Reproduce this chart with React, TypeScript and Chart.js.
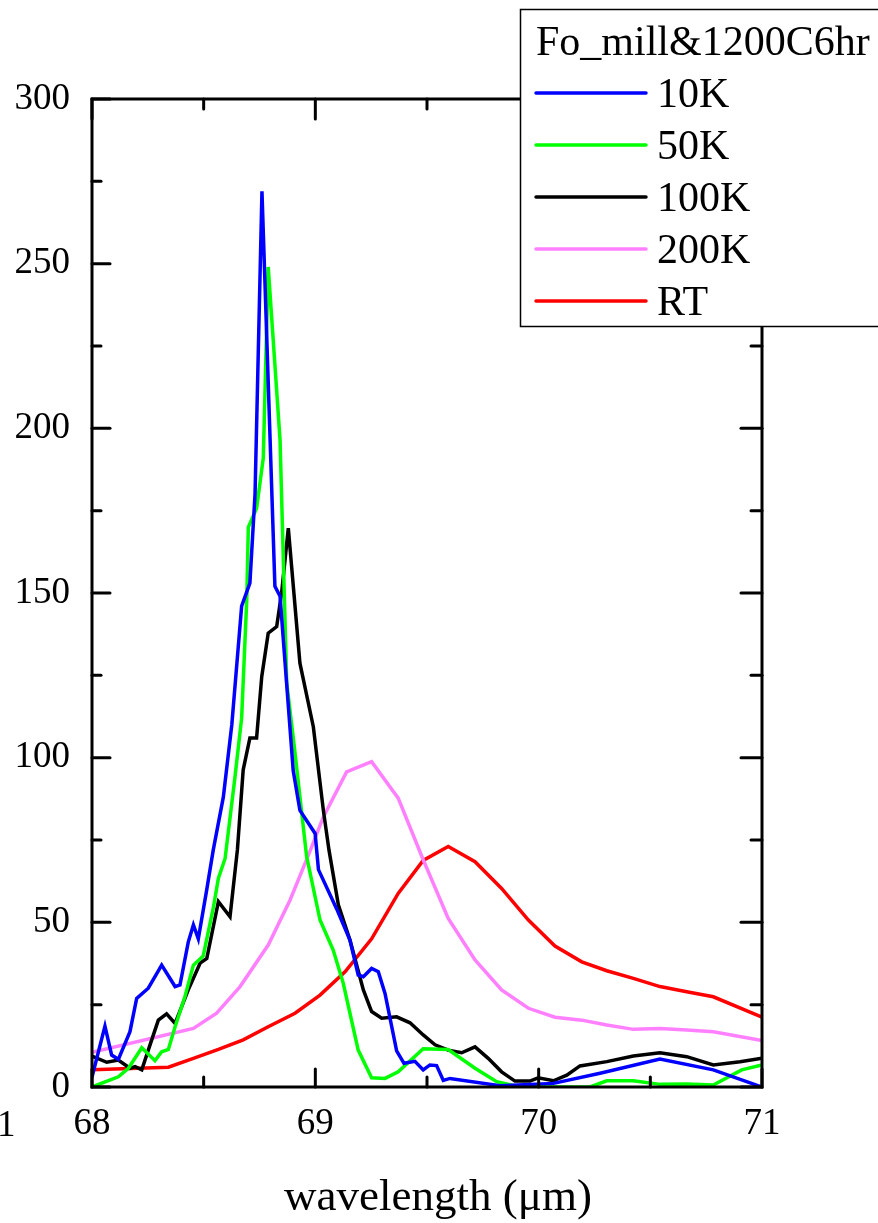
import React, { useEffect, useRef } from "react";
import { Chart, registerables } from "chart.js";

Chart.register(...registerables);

// ---- Data ----
const SERIES_LABELS = ["10K", "50K", "100K", "200K", "RT"];
const SERIES_COLORS = ["#0000FF", "#00FF00", "#000000", "#FF80FF", "#FF0000"];
const LEGEND_TITLE = "Fo_mill&1200C6hr";
const X_TITLE = "wavelength (\u03BCm)";

const WL_10K = [68.0, 68.058, 68.088, 68.118, 68.17, 68.2, 68.252, 68.312, 68.372, 68.394, 68.431, 68.454, 68.476, 68.514, 68.543, 68.588, 68.626, 68.67, 68.707, 68.73, 68.761, 68.819, 68.842, 68.901, 68.931, 68.999, 69.014, 69.096, 69.155, 69.192, 69.215, 69.252, 69.282, 69.312, 69.364, 69.397, 69.446, 69.483, 69.513, 69.543, 69.573, 69.603, 69.827, 70.066, 70.275, 70.543, 70.782, 71.0];
const I_10K = [3, 18.5, 9.7, 8.4, 16.8, 26.9, 30, 37, 30.5, 31, 44, 49.2, 45, 60, 72, 88, 110, 146, 153, 180, 272, 152, 149, 96, 84, 77, 66, 54, 44.6, 34, 33.5, 36, 35, 28.4, 11, 7.2, 7.8, 5.2, 6.7, 6.5, 2, 2.6, 0.4, 1.1, 4.2, 8.5, 5.2, 0];

const WL_50K = [68.0, 68.118, 68.163, 68.223, 68.282, 68.312, 68.342, 68.372, 68.416, 68.454, 68.498, 68.543, 68.566, 68.596, 68.64, 68.67, 68.693, 68.7, 68.737, 68.767, 68.789, 68.842, 68.872, 68.908, 68.961, 69.021, 69.08, 69.125, 69.192, 69.252, 69.312, 69.371, 69.483, 69.595, 69.715, 69.812, 69.916, 70.23, 70.305, 70.424, 70.543, 70.663, 70.782, 70.909, 71.0];
const I_50K = [0, 3.1, 5.7, 11.9, 8, 10.7, 11.4, 18.3, 27.4, 37, 39.8, 54.3, 63.4, 69.4, 94, 112, 148, 170, 175.7, 191, 249, 196.5, 122.6, 102, 70, 50.7, 41.6, 31.5, 11.2, 2.8, 2.6, 4.6, 11.6, 11.4, 5.7, 1.6, 0, 0, 1.9, 1.9, 0.8, 0.9, 0.6, 5.2, 6.7];

const WL_100K = [68.0, 68.066, 68.118, 68.17, 68.193, 68.223, 68.252, 68.297, 68.334, 68.372, 68.431, 68.484, 68.514, 68.566, 68.618, 68.651, 68.677, 68.707, 68.737, 68.76, 68.789, 68.827, 68.849, 68.879, 68.904, 68.931, 68.991, 69.036, 69.061, 69.103, 69.155, 69.215, 69.252, 69.297, 69.364, 69.424, 69.483, 69.536, 69.595, 69.655, 69.715, 69.774, 69.834, 69.894, 69.961, 69.998, 70.066, 70.126, 70.185, 70.305, 70.424, 70.543, 70.663, 70.782, 70.902, 71.0];
const I_100K = [9.4, 7.5, 8.2, 5.7, 6.2, 5.2, 11.2, 20.3, 22.2, 19.3, 29.5, 37.6, 39, 56.3, 51.7, 72, 96.3, 106, 106, 124.6, 137.8, 139.8, 150, 169.7, 150, 128.7, 109.4, 84, 72, 55.3, 44.6, 29.5, 22.9, 20.9, 21.3, 19.5, 15.8, 12.8, 11.2, 10.4, 12.2, 8.7, 4.6, 1.8, 1.8, 2.8, 1.9, 3.6, 6.4, 7.7, 9.4, 10.4, 9.2, 6.7, 7.7, 8.7];

const WL_200K = [68.0, 68.454, 68.558, 68.663, 68.789, 68.887, 68.969, 69.036, 69.14, 69.252, 69.371, 69.483, 69.595, 69.715, 69.834, 69.954, 70.073, 70.193, 70.305, 70.424, 70.543, 70.663, 70.782, 71.0];
const I_200K = [10.5, 17.8, 22.4, 30.5, 43.1, 56.8, 70.4, 82, 95.7, 98.8, 87.7, 69, 51.2, 38.6, 29.5, 23.9, 21.2, 20.3, 18.8, 17.5, 17.8, 17.3, 16.8, 14.1];

const WL_RT = [68.0, 68.342, 68.454, 68.566, 68.677, 68.789, 68.909, 69.021, 69.133, 69.252, 69.371, 69.483, 69.595, 69.715, 69.834, 69.954, 70.073, 70.193, 70.305, 70.424, 70.543, 70.663, 70.782, 71.0];
const I_RT = [5.2, 6, 8.7, 11.4, 14.3, 18.3, 22.4, 27.9, 35, 45, 58.8, 68.8, 73, 68.4, 60.3, 50.7, 42.8, 38, 35.3, 33, 30.5, 28.9, 27.4, 21.2];

const X_MAJOR = [68, 69, 70, 71];
const X_MINOR = [68.5, 69.5, 70.5];
const Y_MAJOR = [0, 50, 100, 150, 200, 250, 300];
const Y_MINOR = [25, 75, 125, 175, 225, 275];

const WLS = [WL_10K, WL_50K, WL_100K, WL_200K, WL_RT];
const INTS = [I_10K, I_50K, I_100K, I_200K, I_RT];

const FONT = "'Liberation Serif', 'Times New Roman', serif";

const framePlugin = {
  id: "frameAndLegend",
  afterDatasetsDraw(chart: any) {
    const { ctx, chartArea } = chart;
    const { left, right, top, bottom } = chartArea;
    const xs = chart.scales.x;
    const ys = chart.scales.y;
    ctx.save();
    ctx.strokeStyle = "#000";
    ctx.lineCap = "butt";
    ctx.lineWidth = 3;
    ctx.strokeRect(left, top, right - left, bottom - top);

    const vtick = (px: number, y0: number, len: number) => {
      ctx.beginPath();
      ctx.moveTo(px, y0);
      ctx.lineTo(px, y0 + len);
      ctx.stroke();
    };
    const htick = (py: number, x0: number, len: number) => {
      ctx.beginPath();
      ctx.moveTo(x0, py);
      ctx.lineTo(x0 + len, py);
      ctx.stroke();
    };
    ctx.lineCap = "round";
    X_MAJOR.forEach((v) => {
      const px = xs.getPixelForValue(v);
      vtick(px, bottom, -18);
      vtick(px, top, 20);
    });
    X_MINOR.forEach((v) => {
      const px = xs.getPixelForValue(v);
      vtick(px, bottom, -10);
      vtick(px, top, 10);
    });
    Y_MAJOR.forEach((v) => {
      const py = ys.getPixelForValue(v);
      htick(py, left, 18);
      htick(py, right, -21);
    });
    Y_MINOR.forEach((v) => {
      const py = ys.getPixelForValue(v);
      htick(py, left, 9);
      htick(py, right, -11);
    });

    // stray label at left edge
    ctx.fillStyle = "#000";
    ctx.font = `37px ${FONT}`;
    ctx.textAlign = "left";
    ctx.textBaseline = "alphabetic";
    ctx.fillText("1", -3, 1136);

    // axis title
    ctx.font = `45px ${FONT}`;
    ctx.textAlign = "center";
    ctx.fillText(X_TITLE, 438, 1210);

    // legend
    ctx.lineCap = "butt";
    ctx.fillStyle = "#fff";
    ctx.fillRect(520.5, 9.5, 400, 317);
    ctx.lineWidth = 1.5;
    ctx.strokeStyle = "#000";
    ctx.strokeRect(520.5, 9.5, 400, 317);
    ctx.fillStyle = "#000";
    ctx.font = `42px ${FONT}`;
    ctx.textAlign = "left";
    ctx.fillText(LEGEND_TITLE, 536, 55);
    SERIES_LABELS.forEach((lab, i) => {
      const yy = 93 + i * 52;
      ctx.strokeStyle = SERIES_COLORS[i];
      ctx.lineWidth = 3.5;
      ctx.lineCap = "round";
      ctx.beginPath();
      ctx.moveTo(536, yy);
      ctx.lineTo(646, yy);
      ctx.stroke();
      ctx.fillStyle = "#000";
      ctx.fillText(lab, 657, yy + 14);
    });
    ctx.restore();
  },
};

export default function App() {
  const canvasRef = useRef<HTMLCanvasElement | null>(null);

  useEffect(() => {
    document.body.style.margin = "0";
    const canvas = canvasRef.current;
    if (!canvas) return;
    const datasets = SERIES_LABELS.map((lab, i) => ({
      label: lab,
      data: WLS[i].map((x, j) => ({ x, y: INTS[i][j] })),
      borderColor: SERIES_COLORS[i],
      backgroundColor: SERIES_COLORS[i],
      borderWidth: 3.5,
      pointRadius: 0,
      tension: 0,
      fill: false,
    }));
    const chart = new Chart(canvas, {
      type: "line",
      data: { datasets },
      options: {
        responsive: false,
        animation: false,
        devicePixelRatio: 1,
        layout: { padding: { top: 99, right: 116, left: 0, bottom: 0 } },
        plugins: { legend: { display: false }, tooltip: { enabled: false } },
        scales: {
          x: {
            type: "linear",
            min: 68,
            max: 71,
            afterBuildTicks: (scale: any) => {
              scale.ticks = X_MAJOR.map((v) => ({ value: v }));
            },
            afterFit: (scale: any) => {
              scale.height = 136;
            },
            grid: { display: false, drawTicks: false },
            border: { display: false },
            ticks: {
              padding: 15,
              color: "#000",
              font: { family: FONT, size: 37 },
              maxRotation: 0,
              autoSkip: false,
            },
          },
          y: {
            type: "linear",
            min: 0,
            max: 300,
            afterBuildTicks: (scale: any) => {
              scale.ticks = Y_MAJOR.map((v) => ({ value: v }));
            },
            afterFit: (scale: any) => {
              scale.width = 92;
            },
            grid: { display: false, drawTicks: false },
            border: { display: false },
            ticks: {
              padding: 22,
              color: "#000",
              font: { family: FONT, size: 37 },
            },
          },
        },
      },
      plugins: [framePlugin],
    });
    return () => chart.destroy();
  }, []);

  return (
    <div style={{ position: "absolute", left: 0, top: 0, width: 878, height: 1223, background: "#fff" }}>
      <canvas ref={canvasRef} width={878} height={1223} style={{ width: 878, height: 1223, display: "block" }} />
    </div>
  );
}
